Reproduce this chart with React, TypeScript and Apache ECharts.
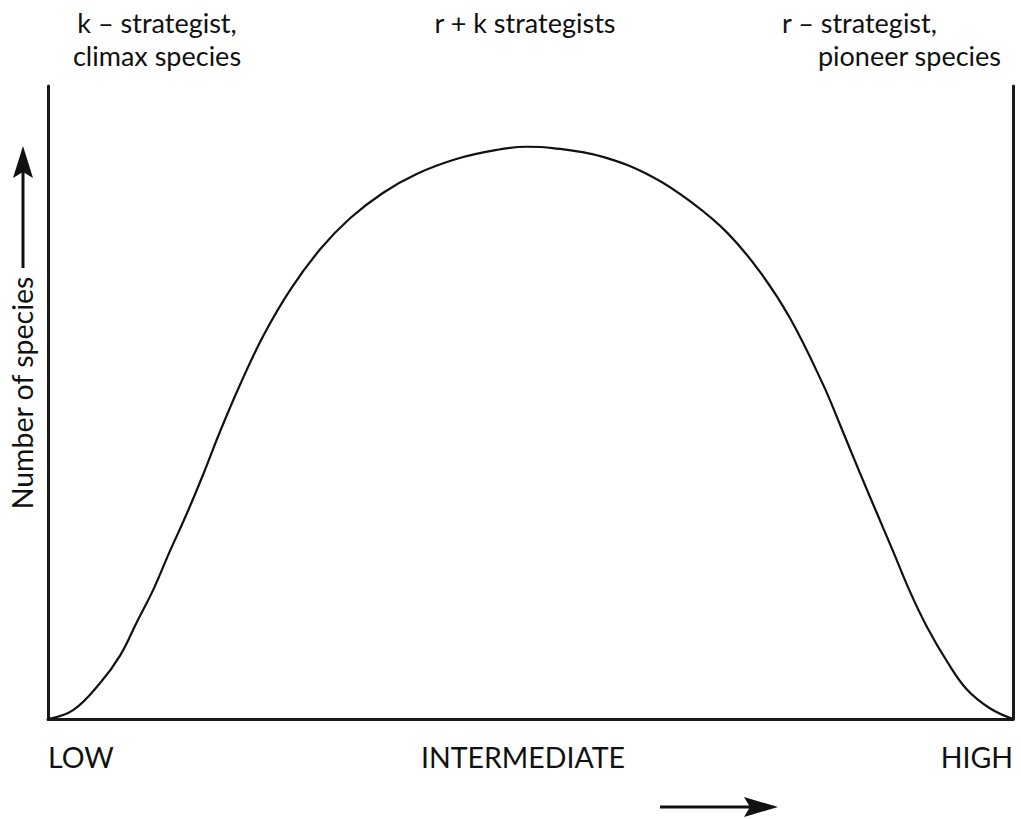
import React, { useEffect, useRef } from "react";
import * as echarts from "echarts";

// Disturbance level (0 = low, 100 = high)
const disturbance = [
  0, 2.6, 5.4, 7.5, 9.2, 10.9, 12.6, 14.4, 16.1, 17.8, 19.9, 22.3, 25.1, 28.2,
  31.3, 34.7, 38.2, 42.4, 46.5, 49.6, 52.3, 57.5, 62.7, 66.8, 70.4, 73.8, 76.9,
  80.3, 82.1, 84.1, 85.9, 87.6, 89.3, 91.1, 93.2, 95.2, 97.6, 100,
];
// Number of species (relative)
const species = [
  0, 1.4, 5.7, 10.1, 15.3, 20.4, 26.4, 32.5, 38.7, 45.3, 52.8, 60.5, 67.8, 74.2,
  79.1, 83.1, 86.1, 88.5, 89.9, 90.4, 90.2, 88.8, 85.6, 81.5, 76.8, 70.6, 63.3,
  52.9, 46.4, 39.0, 32.5, 26.4, 20.2, 14.5, 9.0, 4.7, 1.7, 0,
];
const xTickLabels: Record<number, string> = { 0: "LOW", 50: "{m|INTERMEDIATE}", 100: "HIGH" };
const yLabel = "Number of species";

const FONT = "Lato, 'Open Sans', sans-serif";
const FS = 28.5;
const FS_TOP = 27;

export default function App() {
  const ref = useRef<HTMLDivElement>(null);
  useEffect(() => {
    document.body.style.margin = "0";
    const chart = echarts.init(ref.current!, null, { renderer: "svg" });
    const data = disturbance.map((d, i) => [d, species[i]]);
    const textStyle = { fill: "#111", font: `${FS}px ${FONT}` };
    const topStyle = { fill: "#111", font: `${FS_TOP}px ${FONT}` };
    chart.setOption({
      animation: false,
      backgroundColor: "#fff",
      grid: { left: 48, right: 8, top: 86, bottom: 100 },
      xAxis: {
        type: "value",
        min: 0,
        max: 100,
        interval: 50,
        axisLine: { show: true, onZero: false, lineStyle: { color: "#1a1a1a", width: 3 } },
        axisTick: { show: false },
        splitLine: { show: false },
        axisLabel: {
          margin: 23,
          color: "#111",
          fontFamily: FONT,
          fontSize: FS,
          alignMinLabel: "left",
          alignMaxLabel: "right",
          formatter: (v: number) => xTickLabels[v] ?? "",
          rich: {
            m: { fontFamily: FONT, fontSize: FS, color: "#111", padding: [0, 15, 0, 0] },
          },
        },
      },
      yAxis: [
        {
          type: "value",
          min: 0,
          max: 100,
          position: "left",
          axisLine: { show: true, lineStyle: { color: "#1a1a1a", width: 3 } },
          axisTick: { show: false },
          axisLabel: { show: false },
          splitLine: { show: false },
        },
        {
          type: "value",
          min: 0,
          max: 100,
          position: "right",
          axisLine: { show: true, lineStyle: { color: "#1a1a1a", width: 3 } },
          axisTick: { show: false },
          axisLabel: { show: false },
          splitLine: { show: false },
        },
      ],
      series: [
        {
          type: "line",
          data,
          smooth: 0.4,
          showSymbol: false,
          symbol: "none",
          lineStyle: { color: "#111", width: 2.2 },
        },
      ],
      graphic: [
        {
          type: "text",
          x: 157,
          y: 22,
          style: { ...topStyle, text: "k – strategist,", align: "center", verticalAlign: "middle" },
        },
        {
          type: "text",
          x: 157,
          y: 55,
          style: { ...topStyle, text: "climax species", align: "center", verticalAlign: "middle" },
        },
        {
          type: "text",
          x: 525,
          y: 22,
          style: { ...topStyle, text: "r + k strategists", align: "center", verticalAlign: "middle" },
        },
        {
          type: "text",
          x: 782,
          y: 22,
          style: { ...topStyle, text: "r – strategist,", align: "left", verticalAlign: "middle" },
        },
        {
          type: "text",
          x: 1001,
          y: 55,
          style: { ...topStyle, text: "pioneer species", align: "right", verticalAlign: "middle" },
        },
        {
          type: "text",
          x: 22,
          y: 393,
          rotation: Math.PI / 2,
          style: { ...textStyle, text: yLabel, align: "center", verticalAlign: "middle" },
        },
        // vertical arrow
        { type: "line", shape: { x1: 23, y1: 268, x2: 23, y2: 170 }, style: { stroke: "#111", lineWidth: 3 } },
        { type: "polygon", shape: { points: [[23, 146], [13, 178], [23, 172], [33, 178]] }, style: { fill: "#111" } },
        // horizontal arrow
        { type: "line", shape: { x1: 660, y1: 807, x2: 755, y2: 807 }, style: { stroke: "#111", lineWidth: 3 } },
        { type: "polygon", shape: { points: [[778, 807], [744, 797], [750, 807], [744, 817]] }, style: { fill: "#111" } },
      ],
    });
    return () => chart.dispose();
  }, []);
  return <div ref={ref} style={{ width: 1021, height: 819 }} />;
}
